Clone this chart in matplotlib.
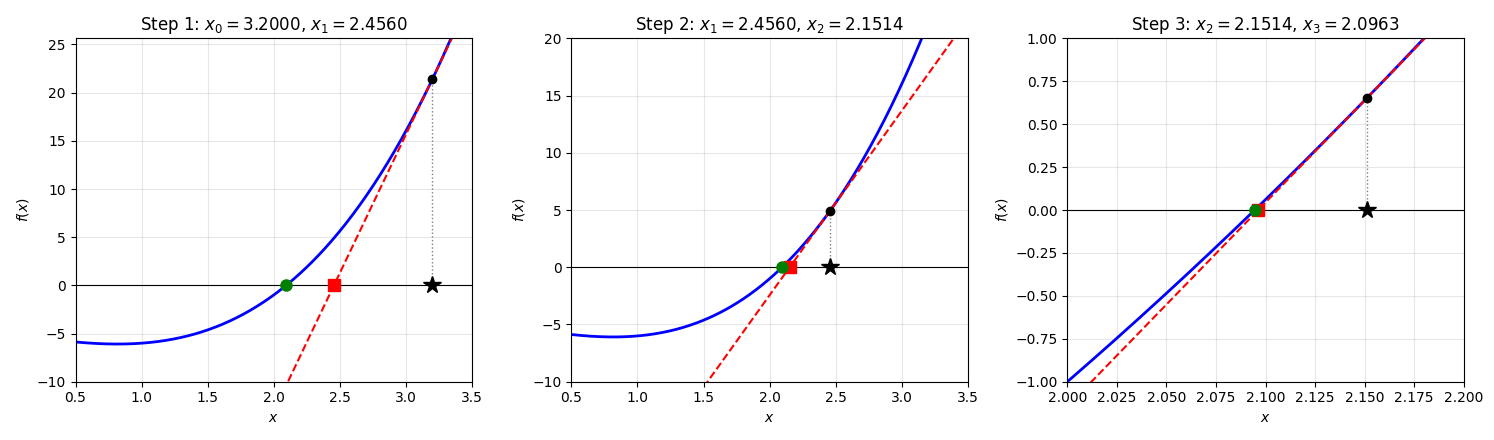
import numpy as np
import matplotlib
matplotlib.use("Agg")
import matplotlib.pyplot as plt

# f(x) = x^3 - 2x - 5
coeffs = [1.0, 0.0, -2.0, -5.0]
iterates = [3.2000, 2.4560, 2.1514, 2.0963]
root = 2.0946
xlims = [(0.5, 3.5), (0.5, 3.5), (2.0, 2.2)]
ylims = [(-10, 25.64), (-10, 20), (-1, 1)]

fig, axes = plt.subplots(1, 3, figsize=(14.94, 4.4), dpi=100)
dcoeffs = np.polyder(coeffs)

for i, ax in enumerate(axes):
    xn, xn1 = iterates[i], iterates[i + 1]
    fn = np.polyval(coeffs, xn)
    slope = np.polyval(dcoeffs, xn)
    lo, hi = xlims[i]
    xs = np.linspace(lo, hi, 400)
    ax.plot(xs, np.polyval(coeffs, xs), color="blue", linewidth=2)
    ax.plot(xs, fn + slope * (xs - xn), "r--", linewidth=1.5)
    ax.axhline(0, color="black", linewidth=0.8)
    ax.plot([xn, xn], [0, fn], ":", color="gray", linewidth=1)
    ax.plot(xn, fn, "o", color="black", markersize=6, zorder=5)
    ax.plot(xn, 0, "*", color="black", markersize=13, zorder=5)
    ax.plot(xn1, 0, "s", color="red", markersize=9, zorder=5)
    ax.plot(root, 0, "o", color="green", markersize=8, zorder=6)
    ax.set_xlim(lo, hi)
    ax.set_ylim(*ylims[i])
    ax.grid(True, alpha=0.3)
    ax.set_xlabel("$x$")
    ax.set_ylabel("$f(x)$")
    ax.set_title(f"Step {i + 1}: $x_{i} = {xn:.4f}$, $x_{i + 1} = {xn1:.4f}$")

fig.tight_layout()
fig.savefig("out.png", dpi=100)
